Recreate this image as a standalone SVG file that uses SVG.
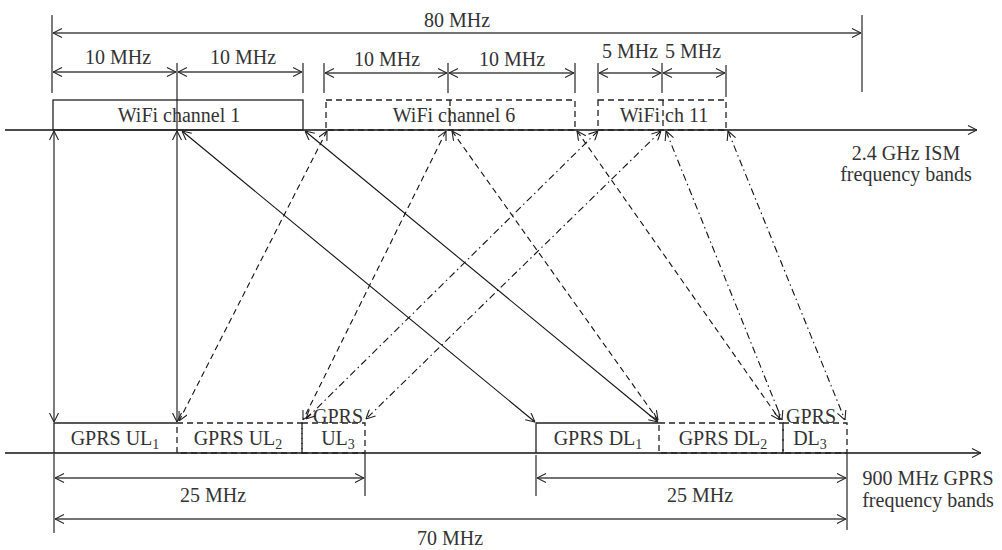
<svg xmlns="http://www.w3.org/2000/svg" width="1002" height="550" viewBox="0 0 1002 550">
<defs>
<marker id="ah" viewBox="0 0 10 10" refX="10" refY="5" markerWidth="10" markerHeight="10" markerUnits="userSpaceOnUse" orient="auto-start-reverse">
<path d="M1,0.5 L10,5 L1,9.5" fill="none" stroke="#222" stroke-width="1.1"/>
</marker>
<style>
text{font-family:"Liberation Serif","Times New Roman",serif;font-size:20px;fill:#333;text-anchor:middle}
.ax{stroke:#111;stroke-width:1.3;fill:none}
.dim{stroke:#444;stroke-width:1.3;fill:none}
.tick{stroke:#444;stroke-width:1.4;fill:none}
.box{stroke:#222;stroke-width:1.3;fill:none}
.dbox{stroke:#222;stroke-width:1.3;fill:none;stroke-dasharray:6,4}
.c{stroke:#111;stroke-width:1.1;fill:none}
.d{stroke:#111;stroke-width:1.1;fill:none;stroke-dasharray:6,4}
.dd{stroke:#111;stroke-width:1.1;fill:none;stroke-dasharray:7,3.5,1.5,3.5}
.sub{font-size:14px}
</style>
</defs>
<rect width="1002" height="550" fill="#fff"/>

<g id="axes">
<line class="ax" x1="5" y1="130" x2="977" y2="130" marker-end="url(#ah)"/>
<line class="ax" x1="5" y1="453" x2="981" y2="453" marker-end="url(#ah)"/>
<text x="906" y="160">2.4 GHz ISM</text>
<text x="906" y="181">frequency bands</text>
<text x="928" y="485">900 MHz GPRS</text>
<text x="928" y="507">frequency bands</text>
</g>

<g id="dimensions">
<line class="tick" x1="52" y1="15" x2="52" y2="93"/>
<line class="tick" x1="862" y1="15" x2="862" y2="92"/>
<line class="dim" x1="53" y1="33" x2="861" y2="33" marker-start="url(#ah)" marker-end="url(#ah)"/>
<text x="457" y="27">80 MHz</text>
<line class="tick" x1="177" y1="63" x2="177" y2="130"/>
<line class="tick" x1="303" y1="63" x2="303" y2="93"/>
<line class="dim" x1="53" y1="72" x2="176" y2="72" marker-start="url(#ah)" marker-end="url(#ah)"/>
<line class="dim" x1="178" y1="72" x2="302" y2="72" marker-start="url(#ah)" marker-end="url(#ah)"/>
<text x="118" y="64">10 MHz</text>
<text x="243" y="64">10 MHz</text>
<line class="tick" x1="324" y1="63" x2="324" y2="93"/>
<line class="tick" x1="448" y1="63" x2="448" y2="93"/>
<line class="tick" x1="575" y1="63" x2="575" y2="93"/>
<line class="dim" x1="325" y1="73" x2="447" y2="73" marker-start="url(#ah)" marker-end="url(#ah)"/>
<line class="dim" x1="449" y1="73" x2="574" y2="73" marker-start="url(#ah)" marker-end="url(#ah)"/>
<text x="387" y="66">10 MHz</text>
<text x="512" y="66">10 MHz</text>
<line class="tick" x1="598" y1="63" x2="598" y2="93"/>
<line class="tick" x1="662" y1="63" x2="662" y2="93"/>
<line class="tick" x1="726" y1="65" x2="726" y2="97"/>
<line class="dim" x1="599" y1="73" x2="661" y2="73" marker-start="url(#ah)" marker-end="url(#ah)"/>
<line class="dim" x1="663" y1="73" x2="725" y2="73" marker-start="url(#ah)" marker-end="url(#ah)"/>
<text x="630" y="58">5 MHz</text>
<text x="693" y="58">5 MHz</text>

<line class="tick" x1="54" y1="453" x2="54" y2="533"/>
<line class="tick" x1="365" y1="453" x2="365" y2="496"/>
<line class="dim" x1="55" y1="478" x2="364" y2="478" marker-start="url(#ah)" marker-end="url(#ah)"/>
<text x="213" y="502">25 MHz</text>
<line class="tick" x1="536" y1="455" x2="536" y2="496"/>
<line class="tick" x1="847" y1="453" x2="847" y2="530"/>
<line class="dim" x1="537" y1="478" x2="846" y2="478" marker-start="url(#ah)" marker-end="url(#ah)"/>
<text x="700" y="502">25 MHz</text>
<line class="dim" x1="55" y1="519" x2="846" y2="519" marker-start="url(#ah)" marker-end="url(#ah)"/>
<text x="450" y="545">70 MHz</text>
</g>

<g id="wifi-ch1">
<rect class="box" x="53" y="100" width="250" height="30"/>
<text x="179" y="122">WiFi channel 1</text>
</g>
<g id="wifi-ch6">
<rect class="dbox" x="326" y="100" width="249" height="30"/>
<line class="dbox" x1="450" y1="100" x2="450" y2="130"/>
<text x="454" y="122">WiFi channel 6</text>
</g>
<g id="wifi-ch11">
<rect class="dbox" x="598" y="100" width="128" height="30"/>
<line class="dbox" x1="663" y1="100" x2="663" y2="130"/>
<text x="664" y="122">WiFi ch 11</text>
</g>

<g id="gprs-ul1">
<path class="box" d="M177,423 H54 V453"/>
<text x="115" y="445">GPRS UL<tspan class="sub" dy="4">1</tspan></text>
</g>
<g id="gprs-ul2">
<rect class="dbox" x="177" y="423" width="125" height="30"/>
<text x="238" y="445">GPRS UL<tspan class="sub" dy="4">2</tspan></text>
</g>
<g id="gprs-ul3">
<rect class="dbox" x="302" y="423" width="63" height="30"/>
<text x="338" y="423">GPRS</text>
<text x="338" y="445">UL<tspan class="sub" dy="4">3</tspan></text>
</g>
<g id="gprs-dl1">
<path class="box" d="M659,423 H536 V453"/>
<text x="598" y="445">GPRS DL<tspan class="sub" dy="4">1</tspan></text>
</g>
<g id="gprs-dl2">
<rect class="dbox" x="659" y="423" width="124" height="30"/>
<text x="723" y="445">GPRS DL<tspan class="sub" dy="4">2</tspan></text>
</g>
<g id="gprs-dl3">
<rect class="dbox" x="783" y="423" width="64" height="30"/>
<text x="811" y="423">GPRS</text>
<text x="810" y="445">DL<tspan class="sub" dy="4">3</tspan></text>
</g>

<g id="connectors">
<line class="c" x1="54" y1="131" x2="54" y2="422" marker-start="url(#ah)" marker-end="url(#ah)"/>
<line class="c" x1="177" y1="131" x2="177" y2="422" marker-start="url(#ah)" marker-end="url(#ah)"/>
<line class="c" x1="182" y1="131" x2="535" y2="422" marker-start="url(#ah)" marker-end="url(#ah)"/>
<line class="c" x1="305" y1="131" x2="658" y2="422" marker-start="url(#ah)" marker-end="url(#ah)"/>
<line class="d" x1="327" y1="131" x2="179" y2="421" marker-start="url(#ah)" marker-end="url(#ah)"/>
<line class="d" x1="446" y1="131" x2="303" y2="420" marker-start="url(#ah)" marker-end="url(#ah)"/>
<line class="d" x1="452" y1="131" x2="658" y2="420" marker-start="url(#ah)" marker-end="url(#ah)"/>
<line class="d" x1="577" y1="131" x2="780" y2="420" marker-start="url(#ah)" marker-end="url(#ah)"/>
<line class="dd" x1="598" y1="131" x2="306" y2="419" marker-start="url(#ah)" marker-end="url(#ah)"/>
<line class="dd" x1="661" y1="131" x2="366" y2="419" marker-start="url(#ah)" marker-end="url(#ah)"/>
<line class="dd" x1="666" y1="131" x2="782" y2="420" marker-start="url(#ah)" marker-end="url(#ah)"/>
<line class="dd" x1="728" y1="131" x2="845" y2="420" marker-start="url(#ah)" marker-end="url(#ah)"/>
</g>
</svg>
